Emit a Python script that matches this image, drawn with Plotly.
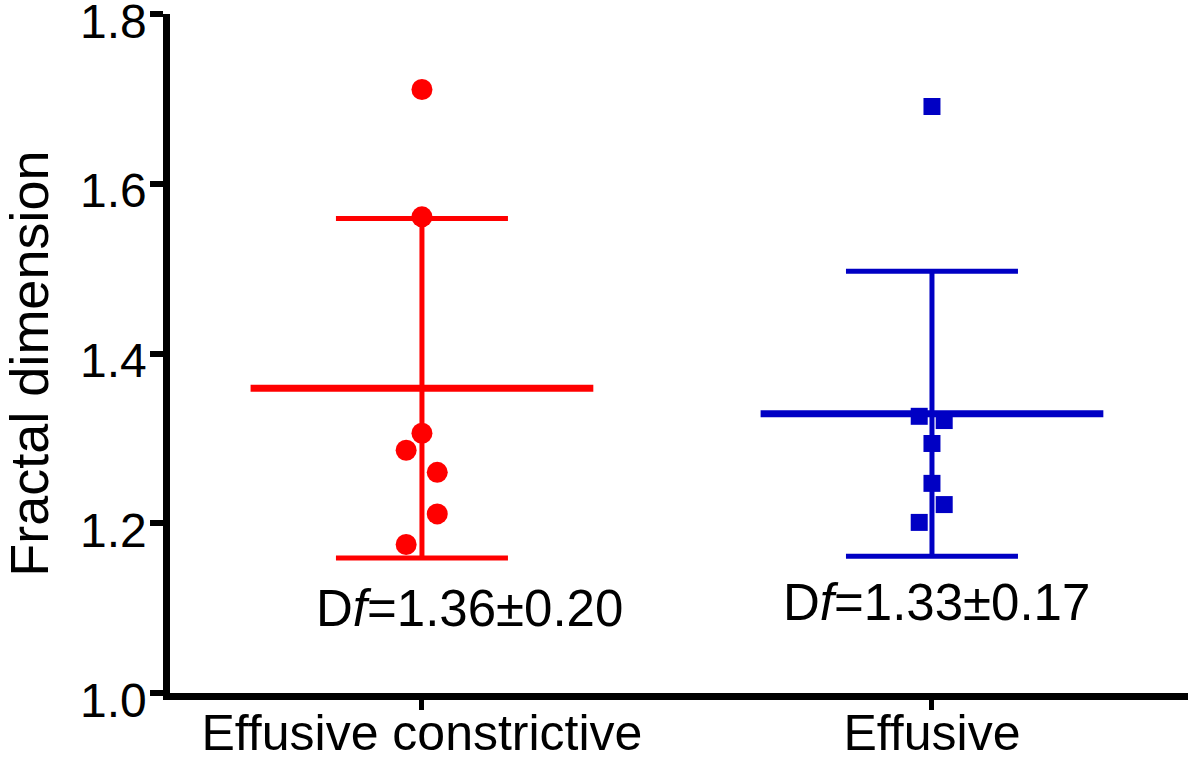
import plotly.graph_objects as go

categories = ["Effusive constrictive", "Effusive"]
cat_pos = [1, 2]

constrictive_vals = [1.711, 1.561, 1.306, 1.286, 1.260, 1.211, 1.175]
constrictive_jitter = [0.0, 0.0, 0.0, -0.031, 0.030, 0.030, -0.031]

effusive_vals = [1.691, 1.326, 1.321, 1.294, 1.247, 1.222, 1.201]
effusive_jitter = [0.0, -0.025, 0.024, 0.0, 0.0, 0.024, -0.025]

means = [1.359, 1.329]
sds = [0.200, 0.168]
labels = ["D<i>f</i>=1.36±0.20", "D<i>f</i>=1.33±0.17"]

colors = ["#FF0000", "#0000C4"]
symbols = ["circle", "square"]
msizes = [21, 17]

yticks = [1.0, 1.2, 1.4, 1.6, 1.8]
ytick_labels = ["1.0", "1.2", "1.4", "1.6", "1.8"]

FONT = "Liberation Sans, Arial, sans-serif"

fig = go.Figure()

groups = [(constrictive_vals, constrictive_jitter), (effusive_vals, effusive_jitter)]

MEAN_HALF = 0.336
for i, pos in enumerate(cat_pos):
    # SD error bar
    fig.add_trace(go.Scatter(
        x=[pos], y=[means[i]], mode="markers",
        marker=dict(size=1, color="rgba(0,0,0,0)"),
        error_y=dict(type="data", array=[sds[i]], color=colors[i],
                     thickness=5, width=86),
        showlegend=False, hoverinfo="skip"))
    # mean line
    fig.add_trace(go.Scatter(
        x=[pos - MEAN_HALF, pos + MEAN_HALF], y=[means[i], means[i]],
        mode="lines", line=dict(color=colors[i], width=7),
        showlegend=False, hoverinfo="skip"))

for i, pos in enumerate(cat_pos):
    vals, jit = groups[i]
    fig.add_trace(go.Scatter(
        x=[pos + j for j in jit], y=vals, mode="markers",
        marker=dict(symbol=symbols[i], size=msizes[i], color=colors[i],
                    line=dict(width=0)),
        name=categories[i], showlegend=False))

ann = []
ann_x = [1.094, 2.008]
ann_y = [1.099, 1.107]
for i in range(2):
    ann.append(dict(x=ann_x[i], y=ann_y[i], xref="x", yref="y",
                    text=labels[i], showarrow=False,
                    font=dict(family=FONT, size=51, color="black"),
                    xanchor="center", yanchor="middle"))
# y tick labels (placed as annotations so they can sit slightly below each tick)
for v, t in zip(yticks, ytick_labels):
    ann.append(dict(x=0, y=v, xref="paper", yref="y", text=t,
                    showarrow=False,
                    font=dict(family=FONT, size=48, color="black"),
                    xanchor="right", yanchor="middle", xshift=-21, yshift=-7))
ann.append(dict(x=0, y=0.485, xref="paper", yref="paper",
                text="Fractal dimension", showarrow=False, textangle=-90,
                font=dict(family=FONT, size=54, color="black"),
                xanchor="center", yanchor="middle", xshift=-141))

fig.update_layout(
    width=1200, height=767,
    margin=dict(l=170, r=12, t=14, b=74),
    paper_bgcolor="white", plot_bgcolor="white",
    annotations=ann,
    xaxis=dict(range=[0.506, 2.502], tickvals=cat_pos, ticktext=categories,
               automargin=False, ticklabeloverflow="allow",
               ticklabelstandoff=-20,
               showgrid=False, zeroline=False, showline=True,
               linecolor="black", linewidth=7,
               ticks="outside", ticklen=10, tickwidth=5, tickcolor="black",
               tickfont=dict(family=FONT, size=50, color="black")),
    yaxis=dict(range=[1.0, 1.8], tickvals=yticks, showticklabels=False,
               automargin=False,
               showgrid=False, zeroline=False, showline=True,
               linecolor="black", linewidth=7,
               ticks="outside", ticklen=13, tickwidth=6, tickcolor="black"),
)

# remove the default 8px page margin so the figure fills the window exactly
fig.write_html("out.html", config={"displayModeBar": False},
               post_script="document.body.style.margin='0px';")
